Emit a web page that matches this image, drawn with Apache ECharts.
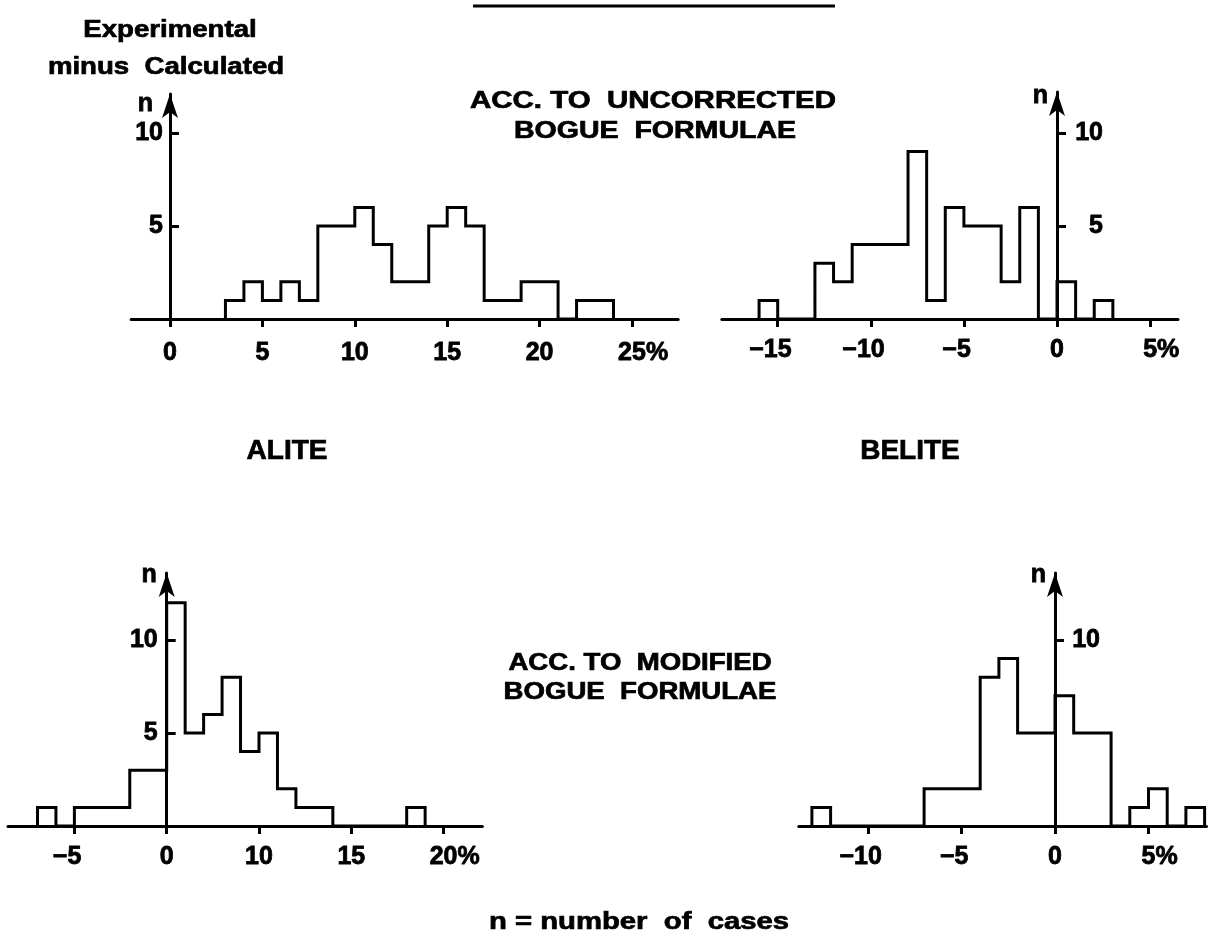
<!DOCTYPE html>
<html>
<head>
<meta charset="utf-8">
<script src="https://cdn.jsdelivr.net/npm/echarts@6/dist/echarts.min.js"></script>
<style>
html, body { margin: 0; padding: 0; background: #fff; }
#chart { width: 1216px; height: 944px; }
</style>
</head>
<body>
<div id="chart"></div>
<script>
// number of cases per 1 % class, first class starts at the given value
var aliteUncorrStart = 3;
var aliteUncorrCounts = [1, 2, 1, 2, 1, 5, 5, 6, 4, 2, 2, 5, 6, 5, 1, 1, 2, 2, 0, 1, 1];
var beliteUncorrStart = -16;
var beliteUncorrCounts = [1, 0, 0, 3, 2, 4, 4, 4, 9, 1, 6, 5, 5, 2, 6, 0, 2, 0, 1];
var aliteModStart = -7;
var aliteModCounts = [1, 0, 1, 1, 1, 3, 3, 12, 5, 6, 8, 4, 5, 2, 1, 1, 0, 0, 0, 0, 1];
var beliteModStart = -13;
var beliteModCounts = [1, 0, 0, 0, 0, 0, 2, 2, 2, 8, 9, 5, 5, 7, 5, 5, 0, 1, 2, 0, 1];

// x ticks and the labels printed under them
var aliteUncorrTicks = [0, 5, 10, 15, 20, 25];
var aliteUncorrLabels = ['0', '5', '10', '15', '20', '25%'];
var beliteUncorrTicks = [-15, -10, -5, 0, 5];
var beliteUncorrLabels = ['\u221215', '\u221210', '\u22125', '0', '5%'];
var aliteModTicks = [-5, 0, 5, 10, 15];
var aliteModLabels = ['\u22125', '0', '10', '15', '20%'];
var beliteModTicks = [-10, -5, 0, 5];
var beliteModLabels = ['\u221210', '\u22125', '0', '5%'];

// n ticks
var nTicks = [5, 10];
var nLabels = [5, 10];
var nTicksBR = [10];
var nLabelsBR = [10];

var FONT = '"Liberation Sans", Arial, sans-serif';
var PPU_Y = 18.6;
var ARROW = [12, 24];

function outline(start, counts) {
    var pts = [[start, 0]];
    for (var i = 0; i < counts.length; i++) {
        pts.push([start + i + 1, counts[i]]);
    }
    pts.push([start + counts.length, 0]);
    return pts;
}

// geometry of each panel (pixel layout only)
var panels = [
    { zeroX: 170, ppu: 18.48, xmin: -2.1, xmax: 27.5, baseY: 319, tipY: 82,
      start: aliteUncorrStart, counts: aliteUncorrCounts, ticks: aliteUncorrTicks, labels: aliteUncorrLabels,
      yTicks: nTicks, yLabels: nLabels, yRight: false, yMargin: 7, xMargin: 22, nGap: -10, nPad: 17 },
    { zeroX: 1057, ppu: 18.62, xmin: -18, xmax: 6.5, baseY: 319, tipY: 80,
      start: beliteUncorrStart, counts: beliteUncorrCounts, ticks: beliteUncorrTicks, labels: beliteUncorrLabels,
      yTicks: nTicks, yLabels: nLabels, yRight: true, yMargin: 46, xMargin: 19, nGap: -4, nPad: 9 },
    { zeroX: 166.7, ppu: 18.46, xmin: -8.6, xmax: 17.1, baseY: 826, tipY: 561,
      start: aliteModStart, counts: aliteModCounts, ticks: aliteModTicks, labels: aliteModLabels,
      yTicks: nTicks, yLabels: nLabels, yRight: false, yMargin: 9, xMargin: 19, nGap: -2, nPad: 10 },
    { zeroX: 1055, ppu: 18.7, xmin: -13.7, xmax: 8.1, baseY: 826, tipY: 561,
      start: beliteModStart, counts: beliteModCounts, ticks: beliteModTicks, labels: beliteModLabels,
      yTicks: nTicksBR, yLabels: nLabelsBR, yRight: true, yMargin: 45, xMargin: 19, nGap: -2, nPad: 9 }
];

// the print is heavier than the bold face, so give glyphs a thin outline
var labelFont = { fontSize: 25, fontWeight: 'bold', fontFamily: FONT, color: '#000',
    textBorderColor: '#000', textBorderWidth: 0.8 };
var ghost = { fontSize: 25, fontWeight: 'bold', fontFamily: FONT, color: 'rgba(0,0,0,0)',
    textBorderColor: 'rgba(0,0,0,0)', textBorderWidth: 0 };

function xLabel(p) {
    return function (v) {
        var s = p.labels[p.ticks.indexOf(v)];
        if (s === undefined) return '';
        // keep the number itself centred on its tick
        if (s.charAt(s.length - 1) === '%') return '{g|%}' + s;
        if (s.charAt(0) === '\u2212') return s + '{g|\u2212}';
        return s;
    };
}

var grids = [], xAxes = [], yAxes = [], series = [];
panels.forEach(function (p, i) {
    var top = p.tipY + ARROW[1] / 2;
    var height = p.baseY - top;
    grids.push({
        left: p.zeroX + p.xmin * p.ppu,
        width: (p.xmax - p.xmin) * p.ppu,
        top: top,
        height: height,
        outerBoundsMode: 'none'
    });
    xAxes.push({
        gridIndex: i, type: 'value', min: p.xmin, max: p.xmax,
        splitLine: { show: false },
        axisLine: { onZero: true, lineStyle: { color: '#000', width: 3 } },
        axisTick: { customValues: p.ticks, length: 8, lineStyle: { color: '#000', width: 3 } },
        axisLabel: Object.assign({ customValues: p.ticks, margin: p.xMargin, formatter: xLabel(p),
            rich: { g: ghost } }, labelFont)
    });
    yAxes.push({
        gridIndex: i, type: 'value', min: 0, max: height / PPU_Y,
        position: 'left', offset: p.xmin * p.ppu,   // put the n axis on x = 0
        splitLine: { show: false },
        name: 'n', nameLocation: 'end', nameGap: p.nGap,
        nameTextStyle: Object.assign({ align: 'right', verticalAlign: 'middle',
            padding: [0, p.nPad, 0, 0] }, labelFont),
        axisLine: { onZero: false, symbol: ['none', 'arrow'], symbolSize: ARROW,
            lineStyle: { color: '#000', width: 3 } },
        axisTick: { customValues: p.yTicks, inside: true, length: 9, lineStyle: { color: '#000', width: 3 } },
        axisLabel: Object.assign({ customValues: p.yLabels, inside: p.yRight, margin: p.yMargin,
            align: 'right' }, labelFont)
    });
    series.push({
        type: 'line', xAxisIndex: i, yAxisIndex: i,
        step: 'start', symbol: 'none', silent: true,
        data: outline(p.start, p.counts),
        lineStyle: { color: '#000', width: 3, join: 'miter', cap: 'square' }
    });
});

function txt(s, x, y, size, sx) {
    return {
        type: 'text', x: x, y: y, scaleX: sx || 1.2, silent: true,
        style: { text: s, x: 0, y: 0, align: 'center', verticalAlign: 'middle',
            font: 'bold ' + size + 'px ' + FONT, fill: '#000', stroke: '#000', lineWidth: 0.7 }
    };
}

var chart = echarts.init(document.getElementById('chart'), null, { renderer: 'canvas' });
chart.setOption({
    backgroundColor: '#fff',
    animation: false,
    grid: grids,
    xAxis: xAxes,
    yAxis: yAxes,
    series: series,
    graphic: [
        { type: 'line', silent: true, shape: { x1: 473, y1: 6, x2: 835, y2: 6 },
          style: { stroke: '#000', lineWidth: 3 } },
        txt('Experimental', 170, 31, 23),
        txt('minus  Calculated', 166, 68, 23, 1.2),
        txt('ACC. TO  UNCORRECTED', 653, 102, 23, 1.28),
        txt('BOGUE  FORMULAE', 655, 132, 23, 1.24),
        txt('ALITE', 287, 451, 28, 1),
        txt('BELITE', 910, 451, 28, 1),
        txt('ACC. TO  MODIFIED', 640, 664, 23),
        txt('BOGUE  FORMULAE', 640, 693, 23),
        txt('n = number  of  cases', 639, 922, 24, 1.22)
    ]
});
</script>
</body>
</html>
